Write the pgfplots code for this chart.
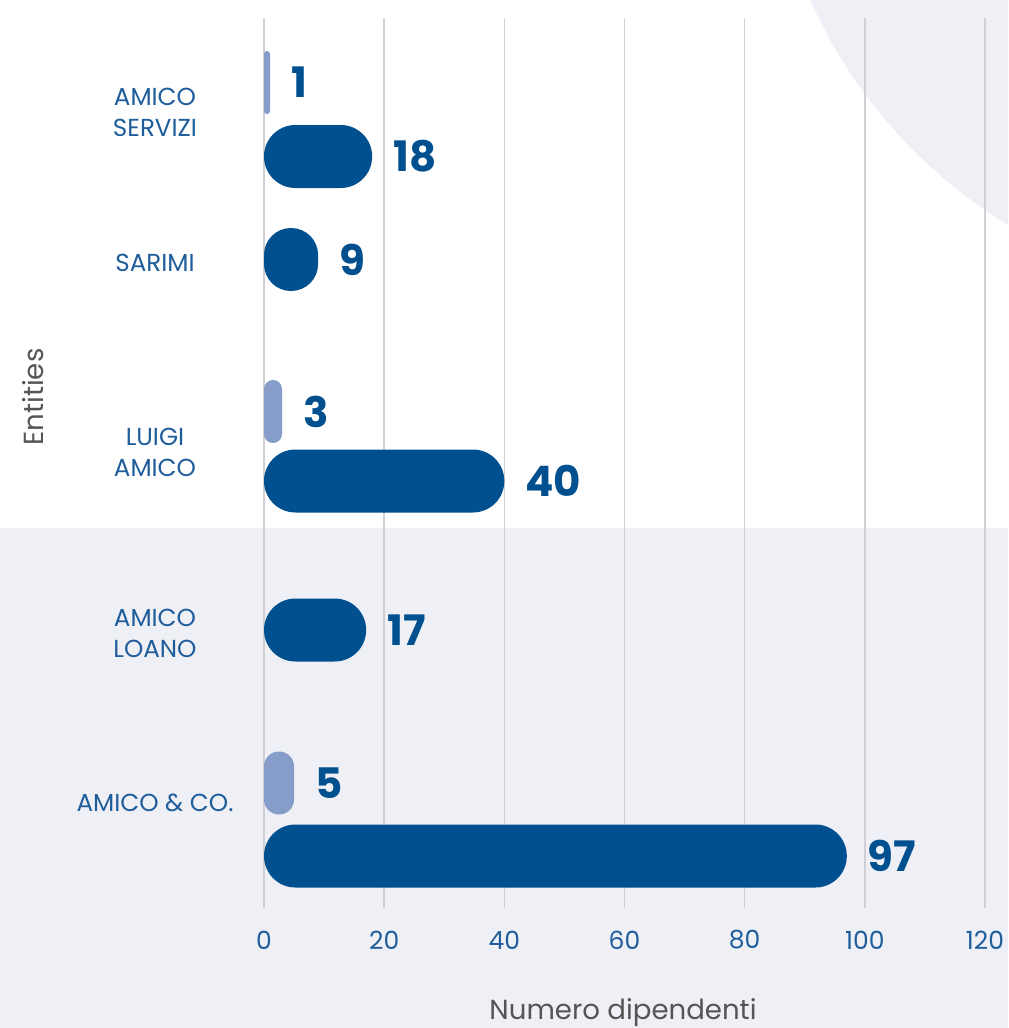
\documentclass[border=0pt]{standalone}
\usepackage{pgfplots}
\pgfplotsset{compat=1.18}
\usepackage{fontspec}
\setmainfont{Poppins}
\definecolor{bgc}{RGB}{239,240,246}
\definecolor{darkb}{RGB}{0,80,143}
\definecolor{lightb}{RGB}{134,156,201}
\definecolor{catb}{RGB}{31,93,155}
\definecolor{titleg}{RGB}{85,85,85}
\definecolor{gridc}{RGB}{208,208,212}
\begin{document}
\begin{tikzpicture}
\useasboundingbox (0,0) rectangle (504pt,514pt);
\fill[white] (0,0) rectangle (504pt,514pt);
\fill[bgc] (0,0) rectangle (504pt,250pt);
\begin{scope}
\clip (0,0) rectangle (504pt,514pt);
\fill[bgc] (634.5pt,616pt) circle (251pt);
\end{scope}
\begin{axis}[
  at={(132pt,60pt)}, anchor=south west,
  scale only axis, width=360.5pt, height=445pt,
  xmin=0, xmax=120, ymin=18, ymax=908, y dir=reverse,
  axis line style={draw=none}, major tick length=0pt,
  xtick={0,20,...,120}, xmajorgrids,
  grid style={gridc, line width=0.7pt},
  ytick={112,263,452,633,803},
  yticklabels={{AMICO\\SERVIZI},{SARIMI},{LUIGI\\AMICO},{AMICO\\LOANO},{AMICO \& CO.}},
  yticklabel style={anchor=center, align=center, xshift=-54.5pt, text=catb,
    font=\fontsize{12.3}{15.5}\selectfont},
  xticklabel style={anchor=center, yshift=-16pt, text=catb,
    font=\fontsize{12.5}{14}\selectfont},
  /pgf/number format/assume math mode=true,
  clip=false,
  mybar/.style={xbar, bar width=31.5pt, bar shift=0pt, draw=none,
    nodes near coords, point meta=x,
    nodes near coords style={anchor=west, xshift=7pt, text=darkb,
      font=\fontsize{21}{25}\bfseries\selectfont}},
]
% light series
\addplot[mybar, fill=lightb, rounded corners=1.45pt] coordinates {(1,82.5)};
\addplot[mybar, fill=lightb, rounded corners=4.45pt] coordinates {(3,411.5)};
\addplot[mybar, fill=lightb, rounded corners=7.45pt] coordinates {(5,783)};
% dark series
\addplot[mybar, fill=darkb, rounded corners=15.7pt] coordinates {(18,156.5)};
\addplot[mybar, fill=darkb, rounded corners=13.45pt] coordinates {(9,259.5)};
\addplot[mybar, fill=darkb, rounded corners=15.7pt] coordinates {(40,481)};
\addplot[mybar, fill=darkb, rounded corners=15.7pt] coordinates {(17,630)};
\addplot[mybar, fill=darkb, rounded corners=15.7pt] coordinates {(97,856)};
\end{axis}
\node[font=\fontsize{13.8}{16}\selectfont, text=titleg] at (311.5pt,7.5pt) {Numero dipendenti};
\node[font=\fontsize{13.8}{16}\selectfont, text=titleg, rotate=90] at (16.5pt,315.5pt) {Entities};
\end{tikzpicture}
\end{document}
